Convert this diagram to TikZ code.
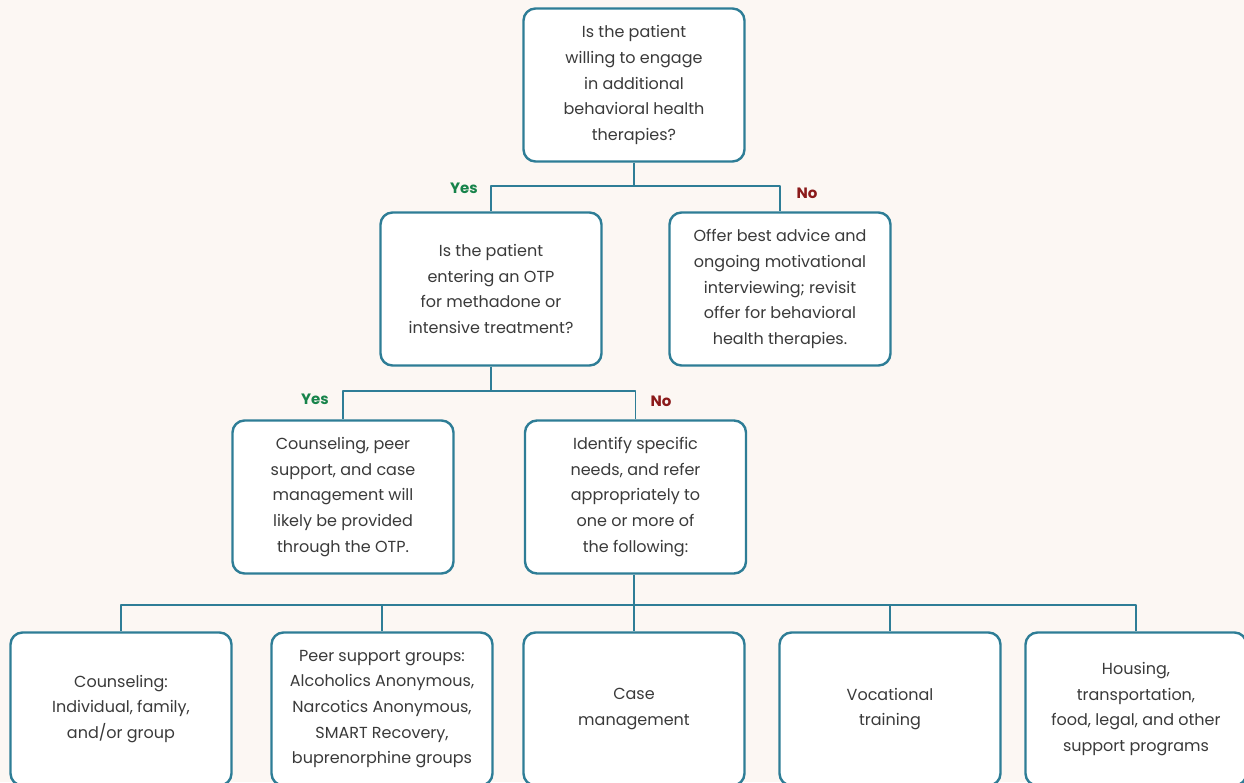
\documentclass[tikz,border=0pt]{standalone}
\usepackage{fontspec}
\setmainfont{Poppins}
\usetikzlibrary{calc,positioning}
\definecolor{paper}{HTML}{FCF7F3}
\definecolor{boxline}{HTML}{2E7D96}
\definecolor{ink}{HTML}{3A3A3A}
\definecolor{yesgreen}{HTML}{17834A}
\definecolor{nored}{HTML}{8B1A1A}
\begin{document}
\begin{tikzpicture}[line cap=round,line join=round,x=1pt,y=-1pt,
  qbox/.style={draw=boxline,line width=2.4pt,fill=white,rounded corners=12pt,
    minimum width=221pt,minimum height=153pt,align=center,text=ink,
    font=\fontsize{16}{25.7}\selectfont,inner sep=0pt},
  link/.style={draw=boxline,line width=1.8pt,line cap=butt},
  yes/.style={text=yesgreen,font=\fontsize{15}{18}\selectfont\bfseries},
  no/.style={text=nored,font=\fontsize{15}{18}\selectfont\bfseries}]
\fill[paper] (0,0) rectangle (1244,782);
\clip (0,0) rectangle (1244,782);
\useasboundingbox (0,0) rectangle (1244,782);
\node[qbox] (willing) at (634,85) {Is the patient\\ willing to engage\\ in additional\\ behavioral health\\ therapies?};
\node[qbox] (otp) at (491,289) {Is the patient\\ entering an OTP\\ for methadone or\\ intensive treatment?};
\node[qbox] (advice) at (780,289) {Offer best advice and\\ ongoing motivational\\ interviewing; revisit\\ offer for behavioral\\ health therapies.};
\node[qbox] (viaotp) at (343,497) {Counseling, peer\\ support, and case\\ management will\\ likely be provided\\ through the OTP.};
\node[qbox] (needs) at (635.5,497) {Identify specific\\ needs, and refer\\ appropriately to\\ one or more of\\ the following:};
% referral options
\node[qbox] (couns) at (121,709) {Counseling:\\ Individual, family,\\ and/or group};
\node[qbox] (peer) at (382,709) {Peer support groups:\\ Alcoholics Anonymous,\\ Narcotics Anonymous,\\ SMART Recovery,\\ buprenorphine groups};
\node[qbox] (casem) at (634,709) {Case\\ management};
\node[qbox] (voc) at (890,709) {Vocational\\ training};
\node[qbox] (housing) at (1136,709) {Housing,\\ transportation,\\ food, legal, and other\\ support programs};
\coordinate (j1) at (634,186);
\coordinate (j2) at (491,391);
\coordinate (j3) at (634,605);
\draw[link] (willing.south) -- (j1) -| (otp.north);
\draw[link] (j1) -| (advice.north);
\draw[link] (otp.south) -- (j2) -| (viaotp.north);
\draw[link] (j2) -| (needs.north);
\draw[link] (needs.south -| j3) -- (j3);
\foreach \b in {couns,peer,casem,voc,housing}
  \draw[link] (j3) -| (\b.north);
\node[yes] (yes1) at (464,188) {Yes};
\node[no] (no1) at (807,193) {No};
\node[yes] (yes2) at (315,399) {Yes};
\node[no] (no2) at (661,401) {No};
\end{tikzpicture}
\end{document}
